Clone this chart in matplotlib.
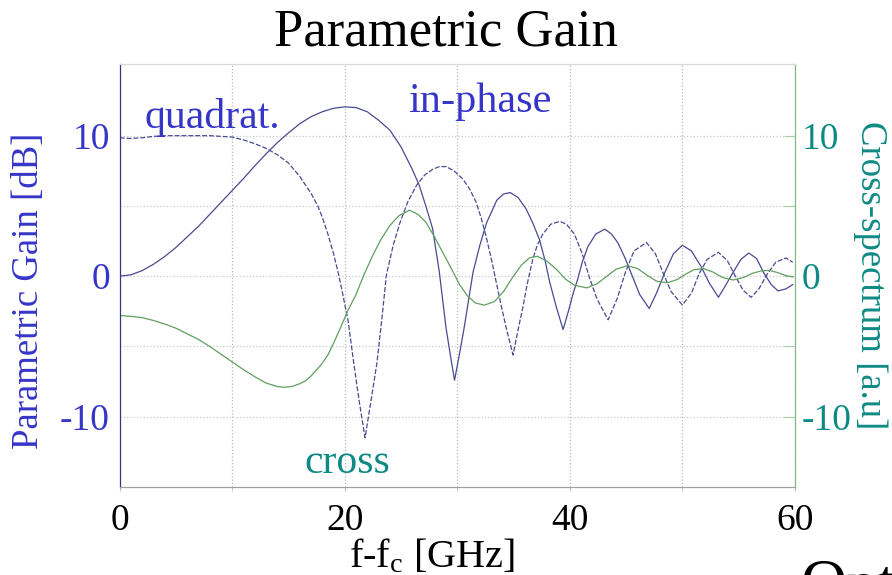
import matplotlib
matplotlib.use('Agg')
import matplotlib.pyplot as plt

plt.rcParams['font.family'] = ['Liberation Serif', 'DejaVu Serif']
plt.rcParams['mathtext.default'] = 'regular'

# in-phase gain [dB] (solid)
x_in = [0, 1, 2, 3, 4, 5, 6, 7, 8, 9, 10, 11, 12, 13, 14, 15, 16, 17, 18, 19,
        20, 21, 22, 23, 24, 25, 26, 26.6, 27.2, 27.8, 28.4, 29.0, 29.4, 29.75,
        30.2, 30.6, 31.0, 31.4, 32.0, 32.6, 33.5, 34.1, 34.7, 35.4, 36.1, 36.7,
        37.3, 37.8, 38.2, 38.8, 39.4, 39.9, 40.3, 40.7, 41.1, 41.6, 42.3, 43.1,
        43.7, 44.25, 44.9, 45.45, 46.2, 47.05, 47.7, 48.4, 49.2, 50.0, 50.8,
        51.65, 52.4, 53.2, 53.8, 54.45, 55.2, 55.9, 56.6, 57.25, 57.9, 58.5,
        59.2, 59.8]
g_in = [0, 0.1, 0.4, 0.85, 1.4, 2.05, 2.8, 3.55, 4.4, 5.25, 6.1, 6.95, 7.85,
        8.7, 9.5, 10.2, 10.85, 11.35, 11.7, 11.95, 12.05, 12.0, 11.7, 11.1,
        10.4, 9.2, 7.6, 6.5, 5.0, 3.4, 0.3, -3.7, -5.7, -7.4, -5.5, -3.7, -1.7,
        0.3, 2.2, 3.8, 5.4, 5.85, 5.95, 5.6, 4.8, 3.8, 2.6, 1.1, -0.4, -2.2,
        -3.8, -2.4, -1.2, -0.2, 1.0, 2.1, 3.0, 3.35, 3.0, 2.4, 1.3, 0.2, -1.3,
        -2.3, -1.2, 0.2, 1.6, 2.2, 1.8, 0.7, -0.5, -1.5, -0.7, 0.2, 1.2, 1.65,
        1.25, 0.2, -0.6, -1.05, -0.9, -0.6]

# quadrature gain [dB] (dashed)
x_qu = [0, 1, 2, 3, 4, 5, 6, 7, 8, 9, 10, 11, 12, 13, 14, 15, 16, 17, 17.6,
        18, 18.5, 19.0, 19.4, 19.8, 20.3, 20.8, 21.3, 21.8, 22.3, 22.85, 23.3,
        23.7, 24.3, 24.9, 25.6, 26.4, 27.1, 27.8, 28.4, 29.0, 29.7, 30.5, 31.1,
        31.65, 32.1, 32.55, 33.0, 33.45, 33.9, 34.35, 34.95, 35.4, 35.8, 36.2,
        36.7, 37.1, 37.6, 38.3, 39.1, 39.7, 40.4, 41.1, 41.7, 42.4, 43.4, 44.2,
        44.9, 45.7, 46.8, 47.6, 48.3, 49.0, 50.0, 50.8, 51.5, 52.2, 53.2, 54.0,
        54.7, 55.4, 56.1, 56.8, 57.5, 58.3, 59.2, 59.8]
g_qu = [9.85, 9.8, 9.85, 9.95, 10.0, 10.0, 10.0, 10.0, 10.0, 9.95, 9.9, 9.7,
        9.43, 9.1, 8.65, 8.05, 7.1, 5.9, 5.0, 4.2, 3.0, 1.6, 0.3, -1.2, -3.2,
        -6.2, -9.0, -11.5, -9.0, -6.2, -3.0, 0.1, 2.2, 3.8, 5.3, 6.5, 7.2, 7.6,
        7.8, 7.8, 7.5, 6.9, 6.2, 5.3, 4.2, 2.85, 1.3, -0.4, -2.1, -3.7, -5.6,
        -3.8, -2.3, -0.6, 1.2, 2.2, 3.0, 3.7, 3.9, 3.7, 3.0, 1.6, 0.0, -1.6,
        -3.1, -1.6, 0.2, 1.8, 2.4, 1.6, 0.2, -1.1, -2.05, -1.2, 0.2, 1.2, 1.7,
        1.1, 0.0, -1.0, -1.5, -0.9, 0.1, 1.0, 1.3, 1.0]

# cross-spectrum [a.u] (green, right axis)
x_cr = [0, 1, 2, 3, 4, 5, 6, 7, 8, 9, 10, 11, 12, 13, 14, 14.6, 15.3, 16,
        16.5, 17, 17.9, 18.5, 19.1, 19.6, 20.3, 21.0, 21.7, 22.5, 23.2, 24.0,
        24.8, 25.75, 26.5, 27.2, 27.9, 28.7, 29.5, 30.2, 30.9, 31.6, 32.4,
        33.3, 34.1, 34.9, 35.7, 36.4, 37.1, 37.9, 38.8, 39.6, 40.4, 41.5, 42.4,
        43.2, 44.1, 45.1, 46.0, 46.9, 47.7, 48.65, 49.5, 50.3, 51.0, 51.85,
        52.7, 53.6, 54.5, 55.4, 56.2, 57.0, 57.7, 58.5, 59.2, 59.8]
s_cr = [-2.8, -2.85, -2.95, -3.15, -3.4, -3.7, -4.1, -4.5, -5.0, -5.55, -6.1,
        -6.65, -7.15, -7.6, -7.85, -7.9, -7.85, -7.65, -7.45, -7.1, -6.3,
        -5.6, -4.6, -3.7, -2.4, -1.3, 0.1, 1.5, 2.6, 3.6, 4.3, 4.7, 4.4, 3.85,
        2.9, 1.7, 0.5, -0.6, -1.4, -1.9, -2.06, -1.8, -1.1, -0.1, 0.8, 1.3,
        1.42, 1.1, 0.5, -0.2, -0.64, -0.83, -0.55, -0.05, 0.5, 0.75, 0.55,
        0.05, -0.35, -0.47, -0.25, 0.15, 0.45, 0.55, 0.3, -0.1, -0.27, -0.1,
        0.2, 0.38, 0.42, 0.25, 0.05, -0.05]

blue_txt = '#3535c8'
teal_txt = '#0e8a84'
line_col = '#4a4a92'
green_col = '#5f9f5f'

fig = plt.figure(figsize=(8.92, 5.75), dpi=100)
ax = fig.add_axes([0.1342, 0.153, 0.757, 0.7357])
ax2 = ax.twinx()

ax.plot(x_in, g_in, color=line_col, lw=0.9)
ax.plot(x_qu, g_qu, color=line_col, lw=0.9, dashes=(4, 1.5))
ax2.plot(x_cr, s_cr, color=green_col, lw=0.9)

ax.set_xlim(0, 60)
ax.set_ylim(-15, 15.1)
ax2.set_ylim(-15, 15.1)

ax.set_xticks([0, 20, 40, 60])
ax.set_xticks([10, 30, 50], minor=True)
ax.tick_params(axis='x', which='both', length=3, color='#bbbbbb', labelsize=27,
               pad=9, labelcolor='black')
ax.set_yticks([-10, -5, 0, 5, 10], labels=['-10', '', '0', '', '10'])
ax.tick_params(axis='y', length=0, labelsize=27, labelcolor=blue_txt, pad=7)
ax2.set_yticks([-10, -5, 0, 5, 10], labels=['-10', '', '0', '', '10'])
ax2.tick_params(axis='y', direction='in', length=8, color='#a8cca8',
                labelsize=27, labelcolor=teal_txt, pad=5)

ax.grid(True, which='both', axis='x', ls=':', color='#b8b8b8', lw=0.9)
ax.grid(True, axis='y', ls=':', color='#c8c8c8', lw=0.9)

for a in (ax, ax2):
    a.spines['left'].set_color('#34348a')
    a.spines['right'].set_color('#80b880')
    a.spines['bottom'].set_color('#a0a0a0')
    a.spines['top'].set_color('#d8d8d8')

ax.set_xlabel('f-f$_c$ [GHz]', fontsize=29, color='black')
ax.xaxis.set_label_coords(0.463, -0.189)
ax.xaxis.label.set_va('baseline')
ax.set_ylabel('Parametric Gain [dB]', fontsize=26.5, color=blue_txt)
ax.yaxis.set_label_coords(-0.1085, 0.463)
ax2.set_ylabel('Cross-spectrum [a.u]', fontsize=26.5, color=teal_txt,
               rotation=270, labelpad=26)
fig.suptitle('Parametric Gain', fontsize=38, y=0.985)

ax.text(2.2, 11.3, 'quadrat.', fontsize=30, color=blue_txt, va='center')
ax.text(25.6, 12.4, 'in-phase', fontsize=30.5, color=blue_txt, va='center')
ax.text(16.4, -13.3, 'cross', fontsize=30, color=teal_txt, va='center')

# word from the next slide element, cut by the bottom edge as in the source
fig.text(0.897, -0.048, 'Opt', fontsize=46, color='black', va='baseline')

fig.savefig('out.png', dpi=100)
